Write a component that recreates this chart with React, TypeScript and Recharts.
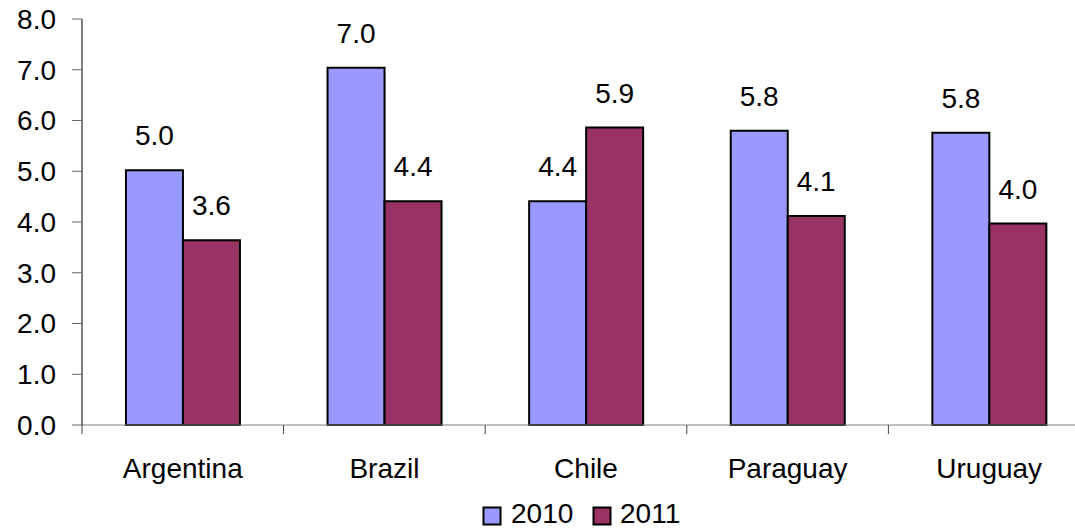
import React from "react";
import { BarChart, Bar, XAxis, YAxis, Legend, LabelList } from "recharts";

const categories = ["Argentina", "Brazil", "Chile", "Paraguay", "Uruguay"];
const values2010 = [5.02, 7.04, 4.41, 5.8, 5.76];
const values2011 = [3.64, 4.41, 5.86, 4.12, 3.97];
const yTicks = [0, 1, 2, 3, 4, 5, 6, 7, 8];
const seriesNames = ["2010", "2011"];
const colors = ["#9999FF", "#993366"];

const data = categories.map((c, i) => ({ name: c, s2010: values2010[i], s2011: values2011[i] }));

const FONT = "'Liberation Sans', Arial, sans-serif";

const CatTick = (props: any) => {
  const { x, y, payload, index } = props;
  const half = payload && typeof payload.offset === "number" ? payload.offset : 100.8;
  const isLast = index === categories.length - 1;
  return (
    <g>
      <line x1={x - half} x2={x - half} y1={y} y2={y + 9} stroke="#404040" strokeWidth={1} />
      {isLast && <line x1={x + half} x2={x + half} y1={y} y2={y + 9} stroke="#404040" strokeWidth={1} />}
      <text x={x} y={y + 53} textAnchor="middle" fontSize={28} fill="#000" fontFamily={FONT}>
        {payload.value}
      </text>
    </g>
  );
};

const LegendContent = () => (
  <svg width={1100} height={44} style={{ display: "block" }}>
    {seriesNames.map((n, i) => {
      const rx = i === 0 ? 483.5 : 593.5;
      const tx = i === 0 ? 511 : 620;
      return (
        <g key={n}>
          <rect x={rx} y={22.5} width={17} height={17} fill={colors[i]} stroke="#000" strokeWidth={2} />
          <text x={tx} y={38} fontSize={28} fill="#000" fontFamily={FONT}>
            {n}
          </text>
        </g>
      );
    })}
  </svg>
);

export default function App() {
  return (
    <div
      style={{
        position: "absolute",
        left: 0,
        top: 0,
        width: 1075,
        height: 529,
        overflow: "hidden",
        background: "#fff",
      }}
    >
      <BarChart
        width={1100}
        height={529}
        data={data}
        margin={{ top: 19, right: 10, bottom: 0, left: 0 }}
        barCategoryGap="21.8%"
        barGap={0}
        style={{ fontFamily: FONT }}
      >
        <XAxis
          dataKey="name"
          height={60}
          tickSize={0}
          tickMargin={0}
          tickLine={false}
          axisLine={{ stroke: "#808080", strokeWidth: 1 }}
          tick={<CatTick />}
          interval={0}
        />
        <YAxis
          width={82}
          domain={[0, 8]}
          ticks={yTicks}
          tickFormatter={(v: number) => v.toFixed(1)}
          tickSize={10}
          tickMargin={16}
          axisLine={{ stroke: "#000", strokeWidth: 1 }}
          tickLine={{ stroke: "#666", strokeWidth: 1 }}
          tick={{ fontSize: 28, fill: "#000", fontFamily: FONT }}
          interval={0}
        />
        <Legend
          verticalAlign="bottom"
          height={44}
          content={<LegendContent />}
          wrapperStyle={{ left: 0, width: 1100, height: 44 }}
        />
        <Bar dataKey="s2010" name="2010" fill={colors[0]} stroke="#000" strokeWidth={2} isAnimationActive={false}>
          <LabelList
            dataKey="s2010"
            position="top"
            offset={25}
            formatter={(v: any) => Number(v).toFixed(1)}
            style={{ fontSize: 28, fill: "#000", fontFamily: FONT }}
          />
        </Bar>
        <Bar dataKey="s2011" name="2011" fill={colors[1]} stroke="#000" strokeWidth={2} isAnimationActive={false}>
          <LabelList
            dataKey="s2011"
            position="top"
            offset={25}
            formatter={(v: any) => Number(v).toFixed(1)}
            style={{ fontSize: 28, fill: "#000", fontFamily: FONT }}
          />
        </Bar>
      </BarChart>
    </div>
  );
}
